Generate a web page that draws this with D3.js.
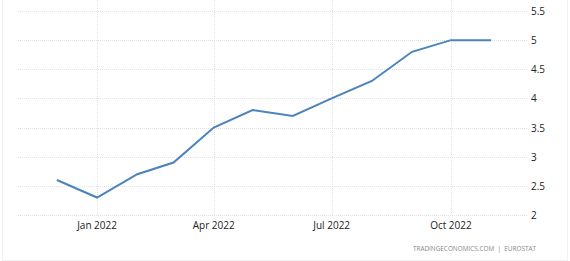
<!DOCTYPE html>
<html>
  <head>
    <meta charset="utf-8">
    <style>
      body { margin: 0; background: #fff; }
      text { font-family: "Open Sans", sans-serif; }
    </style>
    <script src="https://d3js.org/d3.v7.min.js"></script>
    <title>inflation</title>
  </head>
  <body>
    <div id="chart"></div>
    <script>
    // monthly values
    var months = ["2021-12","2022-01","2022-02","2022-03","2022-04","2022-05",
                  "2022-06","2022-07","2022-08","2022-09","2022-10","2022-11"]
    var values = [2.6, 2.3, 2.7, 2.9, 3.5, 3.8, 3.7, 4.0, 4.3, 4.8, 5.0, 5.0]
    var yTicks = [2, 2.5, 3, 3.5, 4, 4.5, 5, 5.5]
    var xTicks = ["2022-01","2022-04","2022-07","2022-10"]
    var source = "TRADINGECONOMICS.COM  |  EUROSTAT"

    var W = 570, H = 261
    var parse = d3.timeParse("%Y-%m")
    var data = months.map(function(m, i) { return {date: parse(m), v: values[i]} })

    var svg = d3.select("#chart").append("svg")
      .attr("width", W).attr("height", H)

    // faint frame
    svg.append("path")
      .attr("d", "M2.5,0V260.5H567.5V0")
      .style("fill", "none").style("stroke", "#f0f0f0")

    var x = d3.scaleTime()
      .domain([parse("2021-11"), parse("2022-12")])
      .range([18, 530])
    var y = d3.scaleLinear().domain([2, 5.5]).range([215, 11])

    // horizontal grid
    svg.selectAll("hgrid").data(yTicks).enter().append("line")
      .attr("x1", 18).attr("x2", 528)
      .attr("y1", function(d) { return Math.round(y(d)) + 0.5 })
      .attr("y2", function(d) { return Math.round(y(d)) + 0.5 })
      .style("stroke", "#e2e2e2").style("stroke-dasharray", "1,1")

    // vertical grid
    svg.selectAll("vgrid").data(xTicks).enter().append("line")
      .attr("x1", function(d) { return Math.round(x(parse(d))) + 0.5 })
      .attr("x2", function(d) { return Math.round(x(parse(d))) + 0.5 })
      .attr("y1", 0).attr("y2", 215)
      .style("stroke", "#e2e2e2").style("stroke-dasharray", "1,1")

    // y labels on the right
    svg.selectAll("ylab").data(yTicks).enter().append("text")
      .attr("x", 531).attr("y", function(d) { return y(d) + 4 })
      .style("font-size", "10px").style("fill", "#222")
      .text(function(d) { return d })

    // x labels
    svg.selectAll("xlab").data(xTicks).enter().append("text")
      .attr("x", function(d) { return x(parse(d)) })
      .attr("y", 229)
      .attr("text-anchor", "middle")
      .style("font-size", "10px").style("fill", "#222")
      .text(function(d) { return d3.timeFormat("%b %Y")(parse(d)) })

    // the line
    var line = d3.line()
      .x(function(d) { return x(d.date) })
      .y(function(d) { return y(d.v) })
    svg.append("path").datum(data)
      .attr("d", line)
      .style("fill", "none")
      .style("stroke", "#4a84ba")
      .style("stroke-width", 2)

    svg.append("text")
      .attr("x", 536).attr("y", 251)
      .attr("text-anchor", "end")
      .style("font-size", "6.4px").style("fill", "#888")
      .style("white-space", "pre")
      .text(source)
    </script>
  </body>
</html>
